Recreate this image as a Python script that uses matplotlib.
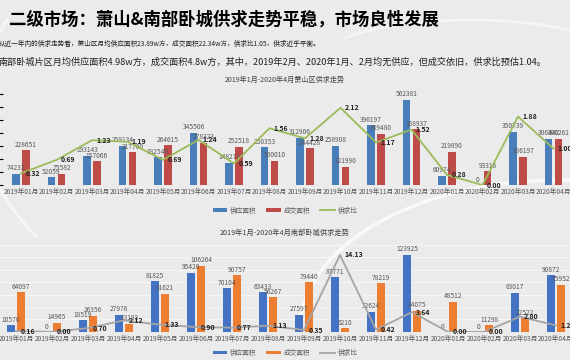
import numpy as np
import matplotlib
matplotlib.use('Agg')
import matplotlib.pyplot as plt
from matplotlib.patches import Arc

plt.rcParams['font.family'] = ['Noto Sans CJK SC', 'DejaVu Sans']

# 月份
months = ['2019年01月', '2019年02月', '2019年03月', '2019年04月', '2019年05月', '2019年06月',
          '2019年07月', '2019年08月', '2019年09月', '2019年10月', '2019年11月', '2019年12月',
          '2020年01月', '2020年02月', '2020年03月', '2020年04月']

# 萧山区
xs_supply = [74233, 52059, 193143, 259134, 182540, 345506, 148271, 250353,
             312906, 258908, 396197, 562381, 60974, 0, 350739, 306442]
xs_deal = [228651, 75582, 157066, 217760, 264615, 278323, 252518, 160010,
           244428, 121990, 339480, 368937, 219890, 93316, 186197, 306261]
xs_ratio = [0.32, 0.69, 1.23, 1.19, 0.69, 1.24, 0.59, 1.56,
            1.28, 2.12, 1.17, 1.52, 0.28, 0.00, 1.88, 1.00]

# 南部卧城
nb_supply = [10570, 0, 18519, 27976, 81825, 95420, 70104, 63433,
             27597, 87771, 32624, 123925, 0, 0, 63017, 90872]
nb_deal = [64097, 14965, 26356, 13193, 61621, 106264, 90757, 56267,
           79440, 6210, 78219, 34075, 48512, 11298, 22522, 75952]
nb_ratio = [0.16, 0.00, 0.70, 2.12, 1.33, 0.90, 0.77, 1.13,
            0.35, 14.13, 0.42, 3.64, 0.00, 0.00, 2.80, 1.20]

bg = '#ebebeb'
lab_c = '#595959'

fig = plt.figure(figsize=(5.7, 3.6), dpi=100, facecolor=bg)

# 背景上的淡白色弧线
deco = fig.add_axes([0, 0, 1, 1], zorder=-1)
deco.set_xlim(0, 570)
deco.set_ylim(360, 0)
deco.axis('off')
deco.add_patch(Arc((560, 330), 520, 300, theta1=180, theta2=290, color='white', lw=2.5, alpha=0.7))
deco.add_patch(Arc((260, 110), 560, 420, theta1=150, theta2=200, color='white', lw=2, alpha=0.6))
deco.add_patch(Arc((470, 60), 300, 80, theta1=190, theta2=350, color='white', lw=2, alpha=0.5))

fig.text(0.015, 0.945, '二级市场：萧山&南部卧城供求走势平稳，市场良性发展',
         fontsize=12.5, fontweight='bold', color='black', va='center')
fig.text(-0.003, 0.877, '从近一年内的供求走势看，萧山区月均供应面积23.89w方，成交面积22.34w方，供求比1.05，供求近乎平衡。',
         fontsize=4.8, color='#222222', va='center')
fig.text(-0.003, 0.827, '南部卧城片区月均供应面积4.98w方，成交面积4.8w方，其中，2019年2月、2020年1月、2月均无供应，但成交依旧，供求比预估1.04。',
         fontsize=6.6, color='#222222', va='center')


def draw(pos, supply, deal, ratio, c1, c2, c3, ymax, rmax, title, title_y, title_fs, leg_y, grid):
    x = np.arange(len(months))
    ax = fig.add_axes(pos)
    ax.set_facecolor('none')
    w = 0.22
    b1 = ax.bar(x - 0.14, supply, w, color=c1, label='供应面积', zorder=2)
    b2 = ax.bar(x + 0.14, deal, w, color=c2, label='成交面积', zorder=2)
    ax.set_xlim(-0.5, len(months) - 0.5)
    ax.set_ylim(0, ymax)
    for xi, v in zip(x, supply):
        ax.text(xi - 0.14, v + ymax * 0.015, str(v), ha='center', va='bottom', fontsize=4.8, color=lab_c, zorder=3)
    for xi, v in zip(x, deal):
        ax.text(xi + 0.14, v + ymax * 0.015, str(v), ha='center', va='bottom', fontsize=4.8, color=lab_c, zorder=3)
    ax.set_xticks(x)
    ax.set_xticklabels(months, fontsize=4.8, color=lab_c)
    ax.tick_params(axis='x', length=0, pad=2)
    ax.set_yticks(np.linspace(0, ymax, 8))
    ax.tick_params(axis='y', left=False, labelleft=False)
    if grid:
        ax.grid(axis='y', color='#f7f7f7', lw=0.6, zorder=0)
    for s in ax.spines.values():
        s.set_visible(False)

    ax2 = ax.twinx()
    ln, = ax2.plot(x, ratio, color=c3, lw=1.3, label='供求比', zorder=4)
    ax2.set_ylim(0, rmax)
    ax2.axis('off')
    for xi, r in zip(x, ratio):
        ax2.text(xi + 0.12, r, '%.2f' % r, ha='left', va='center', fontsize=5,
                 fontweight='bold', color='#222222', zorder=5)

    fig.text(0.5, title_y, title, ha='center', va='center', fontsize=title_fs, color='#404040')
    fig.legend([b1, b2, ln], ['供应面积', '成交面积', '供求比'], loc='center',
               bbox_to_anchor=(0.5, leg_y), ncol=3, frameon=False, fontsize=4.8,
               handlelength=2.2, handleheight=0.5, columnspacing=1.5, handletextpad=0.4,
               labelcolor=lab_c)


draw([0.0057, 0.486, 0.9965, 0.253], xs_supply, xs_deal, xs_ratio,
     '#4a7ebb', '#be4b48', '#9bbb59', 600000, 2.5,
     '2019年1月-2020年4月萧山区供求走势', 0.778, 5.1, 0.415, False)

draw([-0.0035, 0.078, 1.0105, 0.242], nb_supply, nb_deal, nb_ratio,
     '#4472c4', '#ed7d31', '#a5a5a5', 140000, 16,
     '2019年1月-2020年4月南部卧城供求走势', 0.353, 5.2, 0.02, True)

fig.savefig('out.png', dpi=100, facecolor=bg)
